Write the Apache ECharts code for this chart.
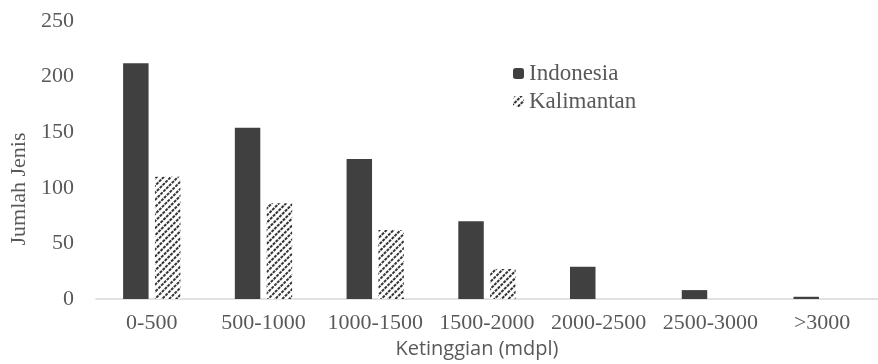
<!DOCTYPE html>
<html>
<head>
<meta charset="utf-8">
<script src="https://cdn.jsdelivr.net/npm/echarts@6/dist/echarts.min.js"></script>
<style>
html,body{margin:0;padding:0;background:#fff;}
#chart{width:878px;height:364px;}
</style>
</head>
<body>
<div id="chart"></div>
<script>
const categories = ['0-500', '500-1000', '1000-1500', '1500-2000', '2000-2500', '2500-3000', '>3000'];
const indonesia = [212, 154, 126, 70, 29, 8, 2];
const kalimantan = [110, 86, 62, 27, 0, 0, 0];
const seriesNames = ['Indonesia', 'Kalimantan'];
const xTitle = 'Ketinggian (mdpl)';
const yTitle = 'Jumlah Jenis';

const serif = '"Liberation Serif", "Times New Roman", serif';
const textColor = '#595959';
const chart = echarts.init(document.getElementById('chart'));
chart.setOption({
  animation: false,
  backgroundColor: '#fff',
  grid: { left: 95, right: 0, top: 21, bottom: 61, containLabel: false },
  legend: {
    orient: 'vertical',
    left: 508,
    top: 57,
    itemWidth: 11,
    itemHeight: 11,
    itemGap: 5,
    textStyle: { fontFamily: serif, fontSize: 23, color: textColor, lineHeight: 23 },
    data: seriesNames
  },
  xAxis: {
    type: 'category',
    data: categories,
    axisLine: { show: true, lineStyle: { color: '#d9d9d9', width: 1.5 } },
    axisTick: { show: false },
    axisLabel: { fontFamily: serif, fontSize: 22, color: textColor, margin: 13, interval: 0 },
    name: xTitle,
    nameLocation: 'middle',
    nameGap: 40,
    nameTextStyle: { fontFamily: '"Open Sans", "Noto Sans", sans-serif', fontSize: 20, color: textColor, padding: [0, 20, 0, 0] }
  },
  yAxis: {
    type: 'value',
    min: 0,
    max: 250,
    interval: 50,
    splitLine: { show: false },
    axisLine: { show: false },
    axisTick: { show: false },
    axisLabel: { fontFamily: serif, fontSize: 22, color: textColor, margin: 22 },
    name: yTitle,
    nameLocation: 'middle',
    nameGap: 64,
    nameTextStyle: { fontFamily: serif, fontSize: 22, color: textColor, padding: [0, 58, 0, 0] }
  },
  series: [
    {
      name: seriesNames[0],
      type: 'bar',
      data: indonesia,
      barWidth: '22.8%',
      barGap: '25%',
      itemStyle: { color: '#404040' }
    },
    {
      name: seriesNames[1],
      type: 'bar',
      data: kalimantan,
      barWidth: '22.8%',
      itemStyle: {
        color: '#ffffff',
        decal: {
          symbol: 'rect',
          color: '#333333',
          backgroundColor: '#ffffff',
          dashArrayX: [[3, 1]],
          dashArrayY: [1.5, 2.5],
          rotation: -Math.PI / 4,
          symbolSize: 1
        }
      }
    }
  ]
});
</script>
</body>
</html>
